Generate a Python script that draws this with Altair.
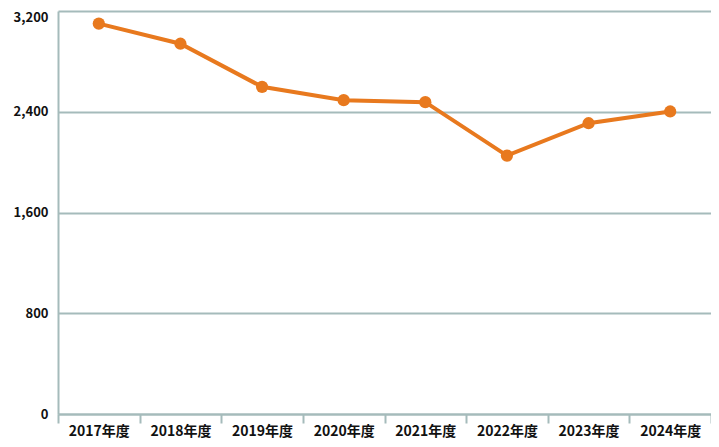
import altair as alt
import pandas as pd

years = ["2017年度", "2018年度", "2019年度", "2020年度", "2021年度", "2022年度", "2023年度", "2024年度"]
values = [3100, 2940, 2598, 2492, 2476, 2052, 2309, 2402]
y_ticks = [0, 800, 1600, 2400, 3200]

df = pd.DataFrame({"year": years, "value": values})

ORANGE = "#E8791E"
GRID = "#A5BBBB"
FONT = "Noto Sans CJK JP"

x = alt.X("year:N", sort=years, title=None,
          scale=alt.Scale(paddingInner=0, paddingOuter=0),
          axis=alt.Axis(labelAngle=0, tickBand="extent", domainColor=GRID, domainWidth=2,
                        tickColor=GRID, tickWidth=2, tickSize=9, labelPadding=1,
                        labelFont=FONT, labelFontWeight="bold", labelFontSize=14,
                        labelColor="#111111", grid=False))
y = alt.Y("value:Q", title=None,
          scale=alt.Scale(domain=[0, 3200], nice=False),
          axis=alt.Axis(values=y_ticks, format=",.0f", domainColor=GRID, domainWidth=2,
                        ticks=False, labelPadding=10, grid=True, gridColor=GRID, gridWidth=2,
                        labelBaseline=alt.ExprRef(expr="datum.value == 3200 ? 'top' : 'middle'"),
                        labelFont=FONT, labelFontWeight="bold", labelFontSize=13,
                        labelColor="#111111"))

line = alt.Chart(df).mark_line(color=ORANGE, strokeWidth=4).encode(x=x, y=y)
pts = alt.Chart(df).mark_point(color=ORANGE, filled=True, opacity=1, size=150).encode(x=x, y=y)

chart = (line + pts).properties(
    width=653, height=403,
    autosize=alt.AutoSizeParams(type="none"),
    padding={"left": 50, "top": 3, "right": 0, "bottom": 24},
).configure_view(stroke=None)

chart.save("out.html", embed_options={"renderer": "svg", "actions": False})
